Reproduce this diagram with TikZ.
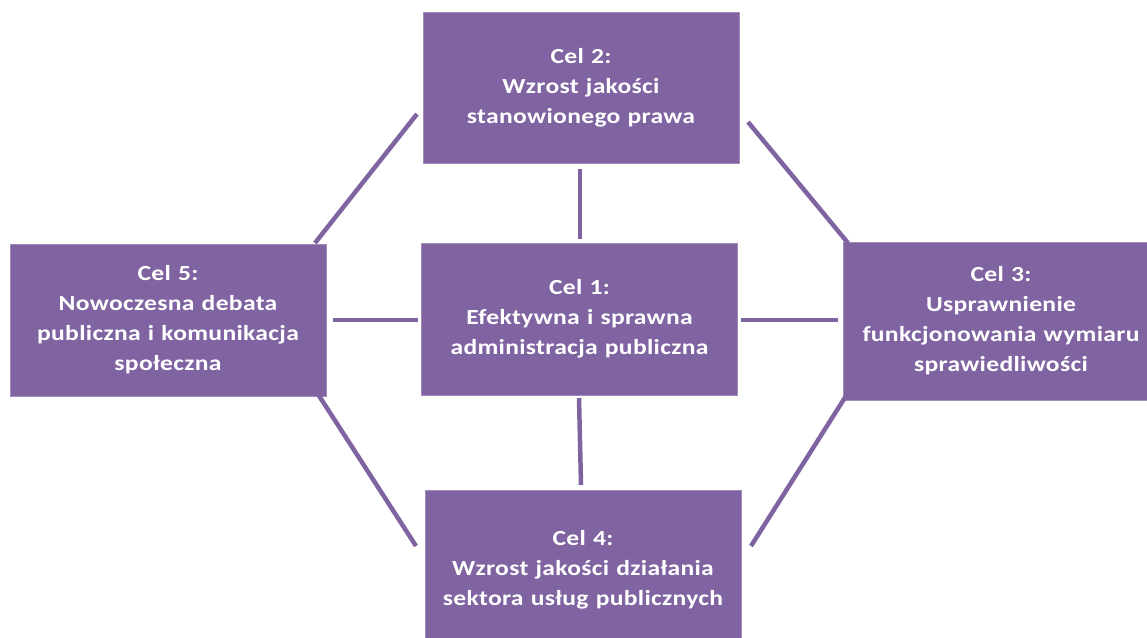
\documentclass[tikz,border=0pt]{standalone}
\usepackage{fontspec}
\setmainfont{Carlito}[FakeStretch=1.19, LetterSpace=1.5]
\definecolor{celpurple}{HTML}{8064A2}
\begin{document}
\begin{tikzpicture}[x=1pt,y=-1pt,
  celbox/.style={fill=celpurple, draw=celpurple!75!white, line width=0.6pt,
    minimum width=316pt, text width=314pt, align=center, text=white,
    font=\bfseries\fontsize{21.5}{30}\selectfont, inner sep=0pt},
  link/.style={draw=celpurple, line width=4.5pt}]
\useasboundingbox (0,0) rectangle (1147,637);

% goal boxes
\node[celbox, minimum height=151pt] (c2) at (581,87.5) {Cel 2:\\Wzrost jakości\\stanowionego prawa};
\node[celbox, minimum height=152pt] (c1) at (579.5,319) {Cel 1:\\Efektywna i sprawna\\administracja publiczna};
\node[celbox, minimum height=152pt] (c5) at (168,320) {Cel 5:\\Nowoczesna debata\\publiczna i komunikacja\\społeczna};
\node[celbox, minimum height=158pt] (c3) at (1001,321) {Cel 3:\\Usprawnienie\\funkcjonowania wymiaru\\sprawiedliwości};
\node[celbox, minimum height=160pt] (c4) at (583,570) {Cel 4:\\Wzrost jakości działania\\sektora usług publicznych};

% connector ends
\coordinate (a21) at (580,169);  \coordinate (b21) at (580,239);
\coordinate (a14) at (579,398);  \coordinate (b14) at (581,485);
\coordinate (a51) at (333,320);  \coordinate (b51) at (418,320);
\coordinate (a13) at (741,320);  \coordinate (b13) at (838,320);
\coordinate (a52) at (315,243);  \coordinate (b52) at (417,114);
\coordinate (a23) at (748,122);  \coordinate (b23) at (848,243);
\coordinate (a54) at (314,388);  \coordinate (b54) at (416,546);
\coordinate (a34) at (851,388);  \coordinate (b34) at (751,546);

\draw[link] (a21) -- (b21);
\draw[link] (a14) -- (b14);
\draw[link] (a51) -- (b51);
\draw[link] (a13) -- (b13);
\draw[link] (a52) -- (b52);
\draw[link] (a23) -- (b23);
\draw[link] (a54) -- (b54);
\draw[link] (a34) -- (b34);
\end{tikzpicture}
\end{document}
